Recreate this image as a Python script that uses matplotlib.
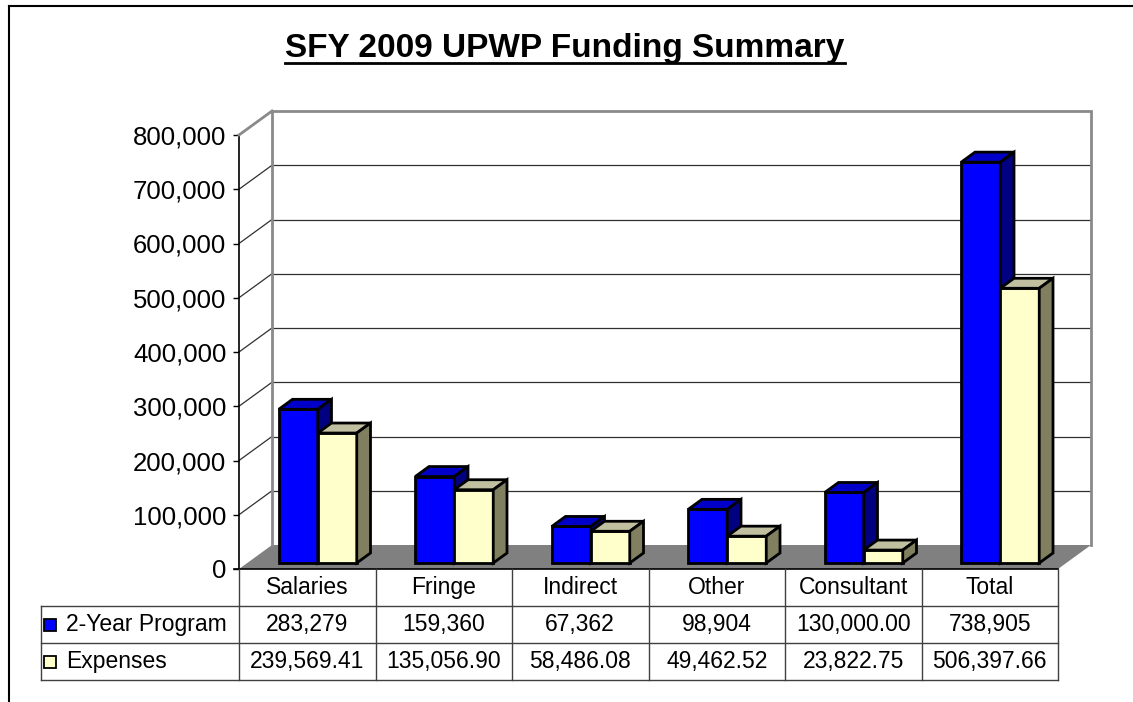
import matplotlib
matplotlib.use('Agg')
import matplotlib.pyplot as plt
from matplotlib.patches import Polygon
from matplotlib.lines import Line2D
from matplotlib.ticker import FuncFormatter
import matplotlib.transforms as mtrans

# ---------------- data ----------------
categories = ['Salaries', 'Fringe', 'Indirect', 'Other', 'Consultant', 'Total']
program = [283279, 159360, 67362, 98904, 130000.00, 738905]
expenses = [239569.41, 135056.90, 58486.08, 49462.52, 23822.75, 506397.66]
program_labels = ['283,279', '159,360', '67,362', '98,904', '130,000.00', '738,905']
expense_labels = ['239,569.41', '135,056.90', '58,486.08', '49,462.52', '23,822.75', '506,397.66']
series_names = ['2-Year Program', 'Expenses']
title = 'SFY 2009 UPWP Funding Summary'
yticks = list(range(0, 800001, 100000))

plt.rcParams['font.family'] = ['Liberation Sans', 'DejaVu Sans']

W, H = 1133, 702
fig = plt.figure(figsize=(W / 100, H / 100), dpi=100)

# front plane of the 3D box (pixels)
X0, X1, YB, YT = 239, 1058, 569, 135
ax = fig.add_axes([X0 / W, 1 - YB / H, (X1 - X0) / W, (YB - YT) / H])
ncat = len(categories)
ymax = yticks[-1]
ax.set_xlim(0, ncat)
ax.set_ylim(0, ymax)
ax.patch.set_visible(False)

pxx = (X1 - X0) / ncat          # px per category
pxy = (YB - YT) / ymax          # px per value unit
DDX = 33 / pxx                  # depth offset in data x
DDY = 24 / pxy                  # depth offset in data y


def P(x, y, d):
    return (x + d * DDX, y + d * DDY)


# floor
floor = Polygon([P(0, 0, 0), P(ncat, 0, 0), P(ncat, 0, 1), P(0, 0, 1)],
                closed=True, facecolor='#808080', edgecolor='none', zorder=1, clip_on=False)
ax.add_patch(floor)

# gridlines on back wall and side wall
for v in yticks[1:-1]:
    ax.add_line(Line2D(*zip(P(0, v, 1), P(ncat, v, 1)), color='#303030', lw=0.9, zorder=2, clip_on=False))
    ax.add_line(Line2D(*zip(P(0, v, 0), P(0, v, 1)), color='#303030', lw=0.9, zorder=2, clip_on=False))

# wall border (gray)
wall_pts = [P(0, 0, 1), P(0, ymax, 1), P(ncat, ymax, 1), P(ncat, 0, 1)]
ax.add_line(Line2D([p[0] for p in wall_pts], [p[1] for p in wall_pts], color='#8a8a8a', lw=2.0,
                   zorder=3, clip_on=False, solid_joinstyle='miter'))
ax.add_line(Line2D(*zip(P(0, ymax, 0), P(0, ymax, 1)), color='#8a8a8a', lw=2.0, zorder=3, clip_on=False))

# bars
w = 39 / pxx
shift = 2.25 / pxx
d0, d1 = 0.25, 0.25 + 10 / 24
face = {0: ('#0000FF', '#0000C8', '#000080'), 1: ('#FFFFCC', '#C0C0A0', '#808060')}
elw = 2.0
z = 10
for i in range(ncat):
    for s, vals in enumerate([program, expenses]):
        v = vals[i]
        xl = i + 0.5 + shift - w + s * w
        front, top, side = face[s]
        ax.bar(xl + d0 * DDX, v, width=w, bottom=d0 * DDY, align='edge', color=front,
               edgecolor='black', linewidth=elw, zorder=z, clip_on=False)
        ax.add_patch(Polygon([P(xl, v, d0), P(xl + w, v, d0), P(xl + w, v, d1), P(xl, v, d1)],
                             closed=True, facecolor=top, edgecolor='black', lw=elw,
                             zorder=z, clip_on=False, joinstyle='miter'))
        ax.add_patch(Polygon([P(xl + w, 0, d0), P(xl + w, 0, d1), P(xl + w, v, d1), P(xl + w, v, d0)],
                             closed=True, facecolor=side, edgecolor='black', lw=elw,
                             zorder=z, clip_on=False, joinstyle='miter'))
        z += 1

# axes styling
for sp in ['top', 'right', 'bottom']:
    ax.spines[sp].set_visible(False)
ax.spines['left'].set_color('black')
ax.spines['left'].set_linewidth(1.2)
ax.set_xticks([])
ax.set_yticks(yticks)
ax.yaxis.set_major_formatter(FuncFormatter(lambda v, p: f'{int(v):,}'))
ax.tick_params(axis='y', length=4, width=1.0, pad=5, labelsize=18.5, colors='black')

# ---------------- data table ----------------
tr = mtrans.blended_transform_factory(ax.transData, ax.transAxes)
rowh = 37 / (YB - YT)
xleft = (41 - X0) / pxx
tcol = '#404040'
# horizontal lines
ax.add_line(Line2D([-5 / pxx, ncat], [0, 0], transform=tr, color='black', lw=1.2, clip_on=False, zorder=20))
for k in range(1, 4):
    ax.add_line(Line2D([xleft, ncat], [-k * rowh, -k * rowh], transform=tr, color=tcol, lw=1.0,
                       clip_on=False, zorder=20))
# vertical lines
for i in range(ncat + 1):
    ax.add_line(Line2D([i, i], [0, -3 * rowh], transform=tr, color=tcol, lw=1.0, clip_on=False, zorder=20))
ax.add_line(Line2D([xleft, xleft], [-rowh, -3 * rowh], transform=tr, color=tcol, lw=1.0, clip_on=False, zorder=20))

fs = 16.5
for i, c in enumerate(categories):
    ax.text(i + 0.5, -0.5 * rowh, c, transform=tr, ha='center', va='center', fontsize=fs)
    ax.text(i + 0.5, -1.5 * rowh, program_labels[i], transform=tr, ha='center', va='center', fontsize=fs)
    ax.text(i + 0.5, -2.5 * rowh, expense_labels[i], transform=tr, ha='center', va='center', fontsize=fs)

key_colors = ['#0000FF', '#FFFFCC']
for r, (name, kc) in enumerate(zip(series_names, key_colors)):
    yc = -(1.5 + r) * rowh
    ax.plot([xleft + 8.5 / pxx], [yc], marker='s', markersize=8, markerfacecolor=kc,
            markeredgecolor='black', markeredgewidth=1.3, transform=tr, clip_on=False, zorder=21)
    ax.text(xleft + 25 / pxx, yc, name, transform=tr, ha='left', va='center', fontsize=fs)

# ---------------- title ----------------
t = fig.text(565 / W, 1 - 57 / H, title, ha='center', va='baseline', fontsize=24, fontweight='bold')
fig.canvas.draw()
bb = t.get_window_extent()
fig.add_artist(Line2D([bb.x0 / W, bb.x1 / W], [1 - 63 / H, 1 - 63 / H], color='black', lw=2.0))

# outer frame (top and left edges)
fig.add_artist(Line2D([9 / W, 1], [1 - 6 / H, 1 - 6 / H], color='black', lw=1.5))
fig.add_artist(Line2D([9 / W, 9 / W], [0, 1 - 6 / H], color='black', lw=1.5))

fig.savefig('out.png', dpi=100)
